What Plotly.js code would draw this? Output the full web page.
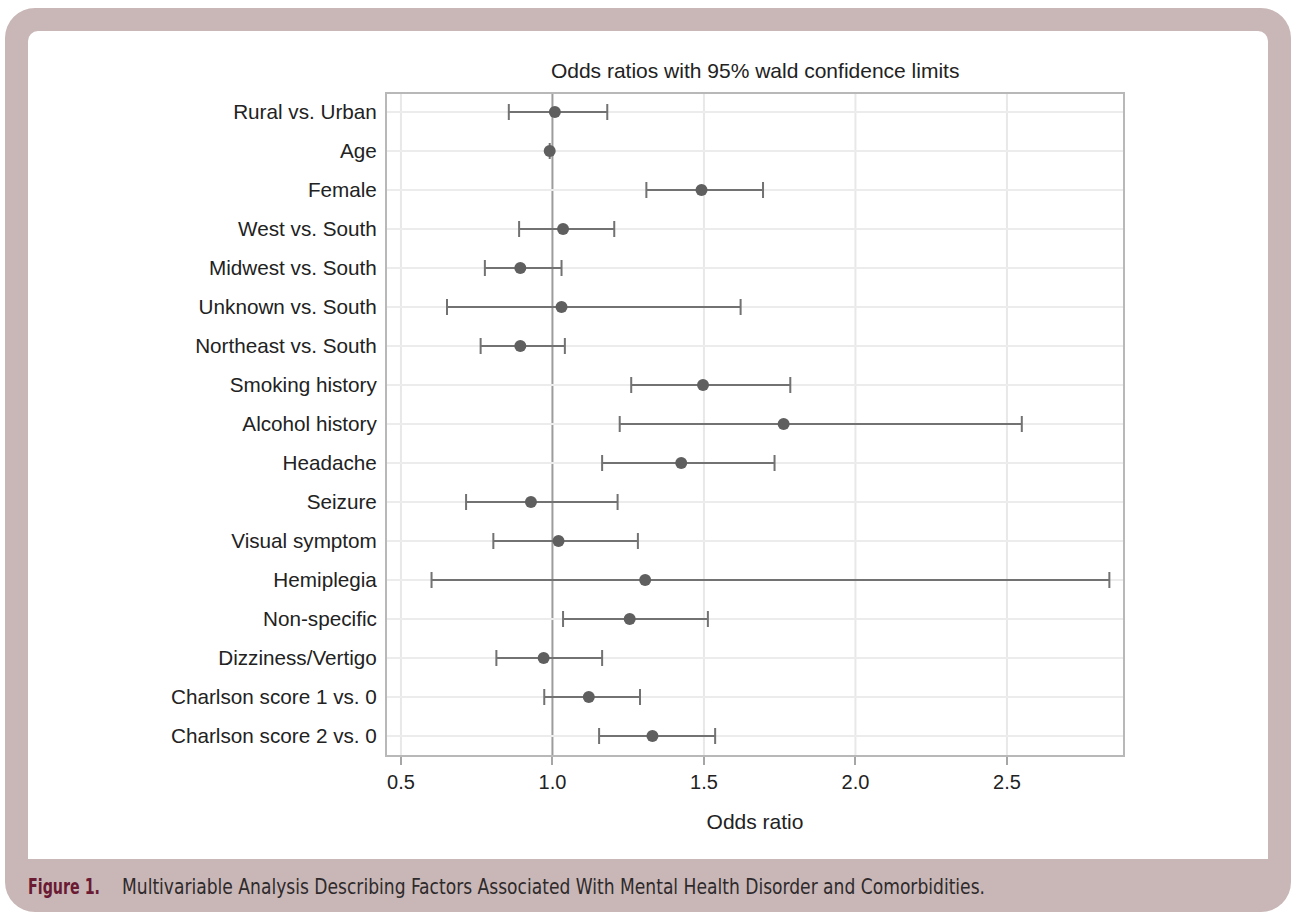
<!DOCTYPE html>
<html>
<head>
<meta charset="utf-8">
<script src="https://cdn.plot.ly/plotly-3.0.1.min.js"></script>
<style>
  html, body { margin: 0; padding: 0; width: 1292px; height: 918px; background: #ffffff; overflow: hidden; }
  #outer { position: absolute; left: 5px; top: 8px; width: 1286px; height: 904px; background: #c9b7b7; border-radius: 30px; }
  #inner { position: absolute; left: 28px; top: 31px; width: 1240px; height: 828px; background: #ffffff; border-radius: 10px 10px 0 0; }
  #chart { position: absolute; left: 0; top: 0; width: 1292px; height: 918px; }
  .cap { position: absolute; top: 875px; font-family: "Liberation Sans Narrow", "DejaVu Sans Condensed", "Liberation Sans", sans-serif; font-size: 21px; white-space: nowrap; transform-origin: 0 50%; }
  #capLabel { left: 28px; color: #6a1a33; font-weight: bold; }
  #capText { left: 122px; color: #2e2a2b; }
</style>
</head>
<body>
<div id="outer"></div>
<div id="inner"></div>
<div id="chart"></div>
<span class="cap" id="capLabel">Figure 1.</span>
<span class="cap" id="capText">Multivariable Analysis Describing Factors Associated With Mental Health Disorder and Comorbidities.</span>
<script>
const factors = ["Rural vs. Urban", "Age", "Female", "West vs. South", "Midwest vs. South",
  "Unknown vs. South", "Northeast vs. South", "Smoking history", "Alcohol history", "Headache",
  "Seizure", "Visual symptom", "Hemiplegia", "Non-specific", "Dizziness/Vertigo",
  "Charlson score 1 vs. 0", "Charlson score 2 vs. 0"];
const oddsRatio = [1.008, 0.991, 1.492, 1.035, 0.894, 1.030, 0.894, 1.497, 1.763, 1.425,
  0.929, 1.020, 1.306, 1.255, 0.971, 1.120, 1.330];
// Age limits are hidden under its marker in the source picture
const lowerCL = [0.856, null, 1.310, 0.890, 0.777, 0.652, 0.763, 1.260, 1.222, 1.164,
  0.715, 0.805, 0.601, 1.035, 0.815, 0.973, 1.154];
const upperCL = [1.181, null, 1.695, 1.204, 1.030, 1.621, 1.041, 1.785, 2.549, 1.733,
  1.215, 1.282, 2.838, 1.513, 1.164, 1.289, 1.537];
const xTicks = [0.5, 1.0, 1.5, 2.0, 2.5];
const xTickText = ["0.5", "1.0", "1.5", "2.0", "2.5"];
const referenceOR = 1.0;

const plus = upperCL.map((u, i) => (u === null ? null : u - oddsRatio[i]));
const minus = lowerCL.map((l, i) => (l === null ? null : oddsRatio[i] - l));

const trace = {
  type: "scatter",
  mode: "markers",
  x: oddsRatio,
  y: factors,
  marker: { color: "#5f5f5f", size: 12 },
  error_x: { type: "data", symmetric: false, array: plus, arrayminus: minus,
             color: "#727272", thickness: 2, width: 8 },
  hoverinfo: "x+y"
};

const fam = '"Liberation Sans", Arial, Helvetica, sans-serif';
const font = { family: fam, size: 20, color: "#222222" };

// vertical grid lines at the ticks, the reference line at OR = 1 drawn darker
const shapes = xTicks.map(v => ({
  type: "line", xref: "x", yref: "paper", x0: v, x1: v, y0: 0, y1: 1, layer: "below",
  line: v === referenceOR ? { color: "#9c9c9c", width: 2 } : { color: "#e8e8e8", width: 2 }
}));

const layout = {
  width: 1292, height: 918,
  paper_bgcolor: "rgba(0,0,0,0)",
  plot_bgcolor: "#ffffff",
  margin: { l: 387, r: 169, t: 94, b: 163 },
  font: font,
  showlegend: false,
  title: { text: "Odds ratios with 95% wald confidence limits", font: { family: fam, size: 21, color: "#222222" },
           x: 0.5845, xanchor: "center", y: 0.9225, yanchor: "middle" },
  xaxis: {
    range: [0.454, 2.883],
    tickvals: xTicks, ticktext: xTickText,
    ticks: "outside", ticklen: 8, tickwidth: 2, tickcolor: "#a6a6a6",
    showgrid: false,
    zeroline: false,
    showline: true, linecolor: "#b8b8b8", linewidth: 2, mirror: true,
    title: { text: "Odds ratio", font: { family: fam, size: 21, color: "#222222" }, standoff: 22 },
    tickfont: font,
    fixedrange: true
  },
  yaxis: {
    type: "category",
    categoryorder: "array", categoryarray: factors,
    range: [16.49, -0.46],
    ticks: "outside", ticklen: 4, tickcolor: "rgba(0,0,0,0)",
    showgrid: true, gridcolor: "#ececec", gridwidth: 2,
    zeroline: false,
    showline: true, linecolor: "#b8b8b8", linewidth: 2, mirror: true,
    tickfont: { family: fam, size: 20.7, color: "#222222" },
    fixedrange: true
  },
  shapes: shapes
};

Plotly.newPlot("chart", [trace], layout, { displayModeBar: false });

// fit the condensed caption to the width it has in the source figure
function fitCaption(id, target) {
  const el = document.getElementById(id);
  const w = el.getBoundingClientRect().width;
  if (w > 0) el.style.transform = "scaleX(" + (target / w) + ")";
}
fitCaption("capLabel", 72);
fitCaption("capText", 863);
</script>
</body>
</html>
